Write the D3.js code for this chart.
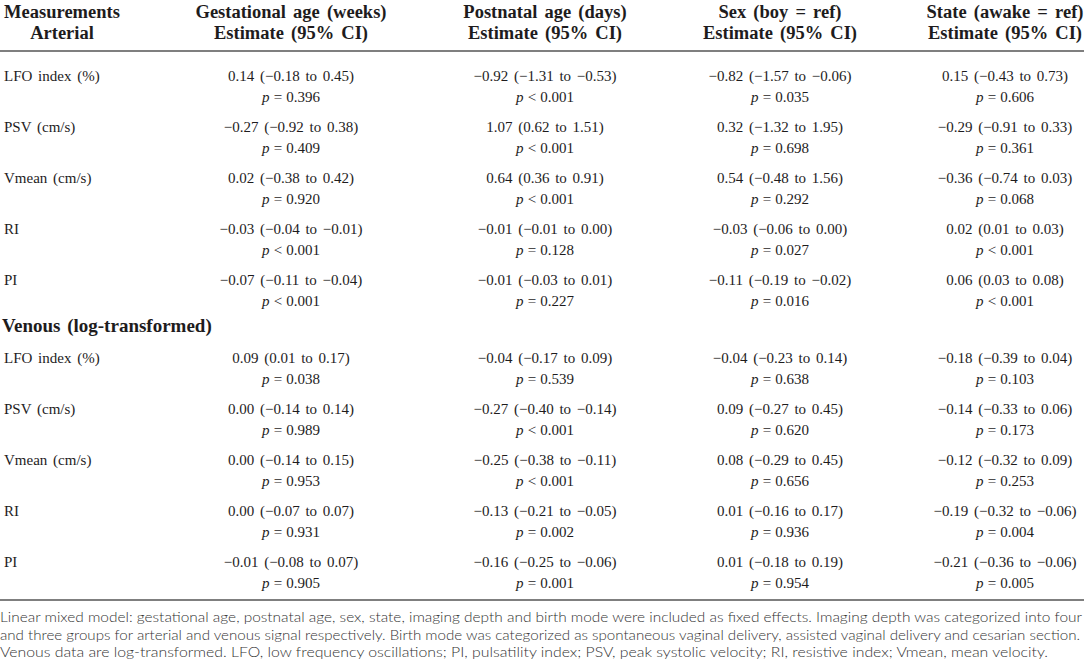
<!DOCTYPE html>
<html>
<head>
<meta charset="utf-8">
<script src="https://cdn.jsdelivr.net/npm/d3@7"></script>
<style>
  body { margin: 0; background: #fff; }
  svg text { fill: #1e1c1d; }
</style>
</head>
<body>
<svg id="tbl" width="1084" height="669"></svg>
<script>
// columns
const colHeads = ["Gestational age (weeks)", "Postnatal age (days)", "Sex (boy = ref)", "State (awake = ref)"];
const measures = ["LFO index (%)", "PSV (cm/s)", "Vmean (cm/s)", "RI", "PI"];
const sections = ["Arterial", "Venous (log-transformed)"];

// estimate, lower, upper ; rows = arterial x5 then venous x5
const gaEst = [[0.14,-0.18,0.45],[-0.27,-0.92,0.38],[0.02,-0.38,0.42],[-0.03,-0.04,-0.01],[-0.07,-0.11,-0.04],
               [0.09,0.01,0.17],[0.00,-0.14,0.14],[0.00,-0.14,0.15],[0.00,-0.07,0.07],[-0.01,-0.08,0.07]];
const gaP = ["= 0.396","= 0.409","= 0.920","< 0.001","< 0.001","= 0.038","= 0.989","= 0.953","= 0.931","= 0.905"];

const pnEst = [[-0.92,-1.31,-0.53],[1.07,0.62,1.51],[0.64,0.36,0.91],[-0.01,-0.01,0.00],[-0.01,-0.03,0.01],
               [-0.04,-0.17,0.09],[-0.27,-0.40,-0.14],[-0.25,-0.38,-0.11],[-0.13,-0.21,-0.05],[-0.16,-0.25,-0.06]];
const pnP = ["< 0.001","< 0.001","< 0.001","= 0.128","= 0.227","= 0.539","< 0.001","< 0.001","= 0.002","= 0.001"];

const sexEst = [[-0.82,-1.57,-0.06],[0.32,-1.32,1.95],[0.54,-0.48,1.56],[-0.03,-0.06,0.00],[-0.11,-0.19,-0.02],
                [-0.04,-0.23,0.14],[0.09,-0.27,0.45],[0.08,-0.29,0.45],[0.01,-0.16,0.17],[0.01,-0.18,0.19]];
const sexP = ["= 0.035","= 0.698","= 0.292","= 0.027","= 0.016","= 0.638","= 0.620","= 0.656","= 0.936","= 0.954"];

const stEst = [[0.15,-0.43,0.73],[-0.29,-0.91,0.33],[-0.36,-0.74,0.03],[0.02,0.01,0.03],[0.06,0.03,0.08],
               [-0.18,-0.39,0.04],[-0.14,-0.33,0.06],[-0.12,-0.32,0.09],[-0.19,-0.32,-0.06],[-0.21,-0.36,-0.06]];
const stP = ["= 0.606","= 0.361","= 0.068","< 0.001","< 0.001","= 0.103","= 0.173","= 0.253","= 0.004","= 0.005"];

const notes = [
  "Linear mixed model: gestational age, postnatal age, sex, state, imaging depth and birth mode were included as fixed effects. Imaging depth was categorized into four",
  "and three groups for arterial and venous signal respectively. Birth mode was categorized as spontaneous vaginal delivery, assisted vaginal delivery and cesarian section.",
  "Venous data are log-transformed. LFO, low frequency oscillations; PI, pulsatility index; PSV, peak systolic velocity; RI, resistive index; Vmean, mean velocity."
];

const svg = d3.select("#tbl"),
      serif = "'Liberation Serif', 'Times New Roman', serif";

const fmt = v => d3.format(".2f")(v).replace("-", "\u2212");
const est = e => `${fmt(e[0])} (${fmt(e[1])} to ${fmt(e[2])})`;

const cols = [
  {head: colHeads[0], est: gaEst, p: gaP},
  {head: colHeads[1], est: pnEst, p: pnP},
  {head: colHeads[2], est: sexEst, p: sexP},
  {head: colHeads[3], est: stEst, p: stP}
];

// column centres (columns are sized to their content)
const xScale = d3.scaleOrdinal()
    .domain(colHeads)
    .range([291, 545, 780, 1005]);

// row slots: arterial 0..4, venous 5.53..9.53
const slot = i => i < 5 ? i : i + 0.53;
const yScale = d3.scaleLinear().domain([0, 1]).range([81, 132]);

// header
const head = svg.append("g")
    .attr("font-family", serif)
    .attr("font-weight", "bold")
    .attr("font-size", 18.5)
    .attr("word-spacing", 2.5)
    .attr("text-anchor", "middle");

head.append("text").attr("x", 62).attr("y", 18).text("Measurements");
head.append("text").attr("x", 62).attr("y", 39).text(sections[0]);

head.selectAll(".h1").data(cols).join("text")
    .attr("x", d => xScale(d.head)).attr("y", 18).text(d => d.head);
head.selectAll(".h2").data(cols).join("text")
    .attr("x", d => xScale(d.head)).attr("y", 39).text("Estimate (95% CI)");

svg.append("line").attr("x1", 0).attr("x2", 1084).attr("y1", 51).attr("y2", 51)
    .attr("stroke", "#7f7f7f").attr("stroke-width", 2);

// body
const body = svg.append("g")
    .attr("font-family", serif)
    .attr("font-size", 15)
    .attr("word-spacing", 2);

const rowIdx = d3.range(10);

body.selectAll(".lab").data(rowIdx).join("text")
    .attr("x", 4)
    .attr("y", i => yScale(slot(i)))
    .text(i => measures[i % 5]);

svg.append("text")
    .attr("font-family", serif)
    .attr("font-weight", "bold")
    .attr("font-size", 19)
    .attr("word-spacing", 2)
    .attr("x", 2)
    .attr("y", yScale(4.92))
    .text(sections[1]);

cols.forEach(c => {
  const g = body.append("g").attr("text-anchor", "middle");
  g.selectAll(".e").data(rowIdx).join("text")
      .attr("x", xScale(c.head))
      .attr("y", i => yScale(slot(i)))
      .text(i => est(c.est[i]));
  const pt = g.selectAll(".p").data(rowIdx).join("text")
      .attr("x", xScale(c.head))
      .attr("y", i => yScale(slot(i)) + 21)
      .attr("word-spacing", 0.5);
  pt.append("tspan").attr("font-style", "italic").text("p");
  pt.append("tspan").text(i => " " + c.p[i]);
});

svg.append("line").attr("x1", 0).attr("x2", 1084).attr("y1", 600).attr("y2", 600)
    .attr("stroke", "#7f7f7f").attr("stroke-width", 2);

// footnote
svg.append("g")
    .attr("font-family", "Lato, 'Open Sans', sans-serif")
    .attr("font-weight", 300)
    .attr("font-size", 14)
    .selectAll("text").data(notes).join("text")
    .attr("x", 0)
    .attr("y", (d, i) => 622 + i * 17.5)
    .style("fill", "#333")
    .attr("textLength", (d, i) => [1082, 1080, 1048][i])
    .attr("lengthAdjust", "spacingAndGlyphs")
    .text(d => d);
</script>
</body>
</html>
